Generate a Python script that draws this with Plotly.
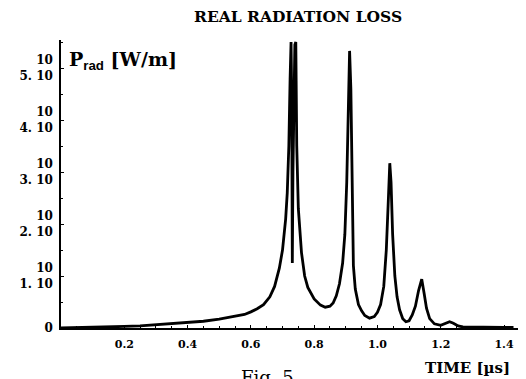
import plotly.graph_objects as go

# Time in microseconds
time_us = [0.00, 0.05, 0.10, 0.15, 0.20, 0.25, 0.30, 0.35, 0.40, 0.45, 0.50, 0.55, 0.58,
           0.60, 0.62, 0.64, 0.66, 0.675, 0.69, 0.70, 0.71, 0.715, 0.72, 0.724, 0.727,
           0.729, 0.731, 0.733, 0.736, 0.739, 0.742, 0.745, 0.75, 0.76, 0.77, 0.78, 0.80,
           0.82, 0.835, 0.85, 0.86, 0.87, 0.88, 0.89, 0.897, 0.903, 0.908, 0.912, 0.916,
           0.92, 0.924, 0.93, 0.94, 0.95, 0.96, 0.975, 0.99, 1.00, 1.01, 1.02, 1.028,
           1.034, 1.039, 1.043, 1.048, 1.055, 1.062, 1.07, 1.08, 1.09, 1.10, 1.11, 1.12,
           1.13, 1.14, 1.148, 1.155, 1.165, 1.18, 1.20, 1.215, 1.228, 1.24, 1.255, 1.27,
           1.30, 1.35, 1.40, 1.43]
# Radiated power in units of 10^10 W/m
p_rad_e10 = [0.0, 0.005, 0.01, 0.02, 0.03, 0.04, 0.06, 0.08, 0.10, 0.13, 0.17, 0.22, 0.26,
             0.31, 0.37, 0.45, 0.60, 0.80, 1.15, 1.50, 2.1, 2.6, 3.5, 4.8, 5.5,
             4.5, 1.25, 3.0, 4.8, 5.45, 5.5, 3.5, 2.3, 1.45, 1.0, 0.78, 0.56,
             0.44, 0.40, 0.42, 0.48, 0.62, 0.85, 1.25, 1.8, 2.8, 4.2, 5.33, 4.6,
             2.6, 1.2, 0.75, 0.45, 0.33, 0.24, 0.19, 0.22, 0.30, 0.45, 0.8, 1.5,
             2.4, 3.17, 2.8, 1.8, 1.0, 0.6, 0.35, 0.18, 0.12, 0.14, 0.25, 0.42,
             0.72, 0.94, 0.65, 0.38, 0.18, 0.08, 0.05, 0.09, 0.12, 0.09, 0.04, 0.02,
             0.015, 0.012, 0.01, 0.01]

x_tick_vals = [0.2, 0.4, 0.6, 0.8, 1.0, 1.2, 1.4]
x_tick_text = ["0.2", "0.4", "0.6", "0.8", "1.0", "1.2", "1.4"]
y_tick_vals_e10 = [0, 1, 2, 3, 4, 5]
y_tick_text = ["0", "10<br>1. 10", "10<br>2. 10", "10<br>3. 10", "10<br>4. 10", "10<br>5. 10"]

SCALE = 1e10
p_rad = [v * SCALE for v in p_rad_e10]
y_tick_vals = [v * SCALE for v in y_tick_vals_e10]

SERIF = "DejaVu Serif"

fig = go.Figure()
fig.add_trace(go.Scatter(x=time_us, y=p_rad, mode="lines",
                         line=dict(color="black", width=2.8), showlegend=False))

# page body has an 8px default margin, so the layout is offset by -8px
fig.update_layout(
    width=526, height=379,
    margin=dict(l=44, r=11, t=32, b=59),
    paper_bgcolor="white", plot_bgcolor="white",
    font=dict(family=SERIF, color="black"),
    xaxis=dict(range=[0, 1.46], showgrid=False, zeroline=False,
               showline=True, linecolor="black", linewidth=1.5,
               tickvals=x_tick_vals, ticktext=x_tick_text,
               ticks="inside", ticklen=3, tickcolor="black", ticklabelstandoff=5,
               tickfont=dict(family=SERIF, size=11, weight="bold"),
               minor=dict(dtick=0.05, ticks="inside", ticklen=2, tickcolor="black")),
    yaxis=dict(range=[0, 5.54e10], showgrid=False, zeroline=False,
               showline=True, linecolor="black", linewidth=1.5,
               tickvals=y_tick_vals, ticktext=y_tick_text,
               ticks="inside", ticklen=3, tickcolor="black", ticklabelstandoff=4,
               tickfont=dict(family=SERIF, size=12, weight="bold"),
               minor=dict(dtick=0.5e10, ticks="inside", ticklen=2, tickcolor="black")),
)

fig.add_annotation(text="REAL RADIATION LOSS", xref="paper", yref="paper",
                   x=0.514, y=1.08, xanchor="center", yanchor="middle", showarrow=False,
                   font=dict(family=SERIF, size=15.5, weight="bold"))
fig.add_annotation(text="P<sub><span style='font-family:Liberation Sans'>rad</span></sub> [W/m]",
                   xref="paper", yref="paper",
                   x=0.012, y=0.93, xanchor="left", yanchor="middle", showarrow=False,
                   font=dict(family=SERIF, size=19, weight="bold"))
fig.add_annotation(text="TIME [µs]", xref="paper", yref="paper",
                   x=0.879, y=-0.139, xanchor="center", yanchor="middle", showarrow=False,
                   font=dict(family=SERIF, size=15, weight="bold"))
fig.add_annotation(text="Fig. 5", xref="paper", yref="paper",
                   x=0.446, y=-0.127, xanchor="center", yanchor="top", showarrow=False,
                   font=dict(family=SERIF, size=18))

fig.write_html("out.html")
